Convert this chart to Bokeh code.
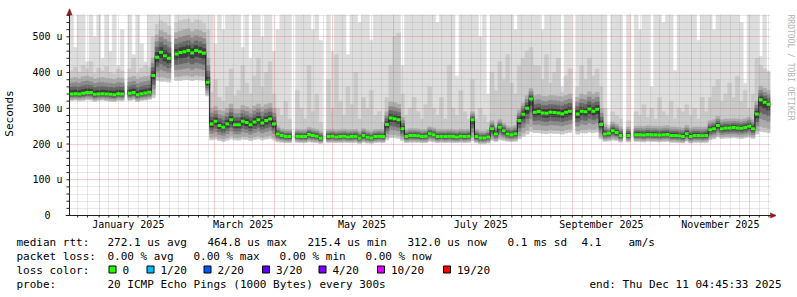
import math
import numpy as np
from datetime import datetime, timedelta
from bokeh.plotting import figure
from bokeh.layouts import row, column
from bokeh.models import Range1d, FixedTicker, ColumnDataSource
from bokeh.core.properties import value
from bokeh.embed import file_html
from bokeh.resources import INLINE

# ---------------- data (2-day buckets, microseconds) ----------------
rtt_median = [
    340, 341, 340, 342, 344, 344, 339, 340, 341, 340,
    339, 338, 341, 340, None, 342, 344, 338, 341, 343,
    345, 392, 443, 457, 447, 440, None, 452, 456, 458,
    462, 455, 462, 458, 454, 373, 256, 264, 252, 247,
    256, 268, 254, 254, 264, 260, 254, 262, 268, 259,
    266, 270, 256, 228, 224, 221, 221, None, 222, 221,
    221, 227, 224, 222, 216, None, 221, 222, 220, 221,
    222, 220, 221, 222, 216, 224, 219, 217, 221, 222,
    221, 255, 273, 271, 268, 243, 221, 224, 224, 223,
    221, 222, 229, 226, 221, 222, 221, 222, 221, 220,
    222, 221, 222, 268, 221, 217, 217, 220, 243, 228,
    247, 237, 228, 226, 229, 266, 283, 300, 326, 289,
    291, 287, 286, 289, 288, 287, 285, 289, 292, None,
    284, 292, 290, 298, 292, 297, 255, 228, 230, 237,
    232, 224, None, 224, None, 226, 226, 225, 227, 226,
    226, 225, 226, 227, 224, 224, 223, 221, 229, 221,
    224, 224, 223, 224, 240, 243, 252, 243, 245, 245,
    246, 245, 244, 246, 250, 243, 284, 324, 317, 311]

rtt_min = [
    322, 323, 321, 322, 324, 323, 320, 322, 323, 321,
    320, 319, 322, 321, None, 322, 324, 319, 322, 323,
    325, 330, 378, 376, 376, 374, None, 378, 378, 380,
    380, 378, 380, 379, 378, 335, 212, 214, 210, 208,
    211, 215, 212, 211, 214, 213, 210, 213, 215, 212,
    214, 216, 212, 206, 205, 204, 204, None, 205, 204,
    204, 206, 205, 204, 202, None, 204, 205, 204, 204,
    205, 204, 204, 205, 202, 205, 203, 202, 204, 205,
    204, 212, 218, 218, 216, 210, 204, 205, 205, 205,
    204, 204, 208, 206, 204, 205, 204, 205, 204, 204,
    205, 204, 205, 210, 204, 201, 201, 203, 210, 207,
    212, 210, 208, 207, 208, 215, 222, 228, 235, 232,
    232, 230, 229, 231, 230, 230, 228, 231, 233, None,
    228, 232, 231, 234, 232, 234, 215, 208, 209, 211,
    210, 206, None, 206, None, 207, 207, 206, 208, 207,
    207, 206, 207, 208, 205, 205, 204, 203, 208, 203,
    205, 205, 204, 205, 212, 215, 220, 216, 217, 217,
    218, 217, 216, 218, 220, 216, 228, 236, 234, 232]

rtt_p75 = [
    384, 386, 383, 388, 390, 387, 382, 385, 386, 384,
    383, 381, 385, 384, None, 386, 389, 382, 386, 388,
    390, 440, 505, 518, 512, 505, None, 512, 516, 520,
    522, 515, 520, 518, 512, 440, 300, 305, 295, 292,
    300, 312, 298, 298, 308, 304, 298, 306, 312, 303,
    310, 314, 300, 250, 242, 240, 240, None, 241, 240,
    240, 246, 243, 241, 236, None, 240, 241, 239, 240,
    241, 239, 240, 241, 236, 243, 238, 236, 240, 241,
    240, 290, 318, 316, 312, 275, 240, 243, 243, 242,
    240, 241, 248, 245, 240, 241, 240, 241, 240, 239,
    241, 240, 241, 290, 240, 236, 236, 239, 265, 250,
    268, 258, 250, 248, 252, 295, 315, 335, 355, 335,
    338, 334, 333, 336, 335, 334, 332, 336, 340, None,
    331, 340, 337, 346, 340, 345, 300, 255, 245, 262,
    256, 248, None, 248, None, 250, 250, 249, 251, 250,
    250, 249, 250, 251, 248, 248, 247, 245, 252, 245,
    248, 248, 247, 248, 265, 268, 277, 268, 270, 270,
    271, 270, 269, 271, 275, 268, 320, 362, 356, 350]

rtt_p90 = [
    405, 415, 400, 420, 410, 430, 398, 412, 405, 418,
    400, 396, 410, 405, None, 410, 440, 398, 412, 420,
    415, 500, 535, 545, 540, 530, None, 540, 545, 548,
    550, 540, 548, 545, 538, 520, 345, 380, 330, 320,
    360, 410, 335, 350, 420, 370, 340, 390, 440, 360,
    400, 430, 340, 300, 280, 320, 270, None, 350, 300,
    270, 420, 290, 340, 260, None, 380, 300, 450, 320,
    280, 360, 310, 400, 270, 330, 300, 350, 280, 290,
    260, 330, 420, 500, 510, 340, 280, 300, 330, 290,
    270, 310, 360, 300, 280, 330, 270, 420, 300, 280,
    350, 290, 270, 380, 270, 300, 280, 260, 400, 350,
    430, 380, 450, 370, 340, 420, 440, 460, 470, 420,
    420, 380, 450, 370, 400, 440, 345, 390, 410, None,
    360, 420, 380, 440, 390, 410, 360, 300, 250, 290,
    280, 270, None, 265, None, 290, 280, 310, 275, 300,
    270, 330, 290, 280, 320, 270, 300, 290, 310, 280,
    300, 270, 330, 290, 330, 360, 380, 320, 340, 370,
    330, 390, 320, 350, 300, 340, 440, 420, 410, 400]

rtt_max = [
    580, 470, 580, 580, 430, 580, 500, 580, 440, 580,
    460, 580, 420, 520, None, 580, 450, 580, 480, 430,
    580, 580, 580, 580, 580, 580, None, 580, 580, 580,
    580, 580, 580, 580, 580, 580, 580, 480, 580, 520,
    580, 580, 580, 580, 470, 580, 440, 580, 580, 500,
    580, 580, 460, 520, 580, 580, 580, None, 580, 580,
    580, 580, 520, 580, 490, None, 580, 460, 580, 580,
    580, 450, 580, 580, 540, 580, 580, 490, 580, 580,
    580, 580, 580, 580, 580, 420, 580, 580, 580, 580,
    580, 580, 580, 580, 540, 580, 580, 580, 580, 390,
    580, 580, 580, 580, 580, 500, 580, 340, 580, 580,
    580, 580, 580, 580, 520, 580, 580, 580, 580, 580,
    580, 520, 580, 580, 580, 580, 360, 580, 580, None,
    580, 580, 580, 580, 580, 580, 580, 580, 255, 580,
    580, 580, None, 580, None, 580, 520, 580, 580, 360,
    580, 580, 540, 580, 580, 405, 580, 580, 580, 580,
    580, 490, 580, 580, 580, 520, 580, 580, 580, 580,
    580, 580, 540, 370, 580, 580, 580, 445, 580, 405]

y_ticks = [0, 100, 200, 300, 400, 500]
y_labels = ["0\u00a0\u00a0", "100 u", "200 u", "300 u", "400 u", "500 u"]
month_labels = ["January 2025", "March 2025", "May 2025",
                "July 2025", "September 2025", "November 2025"]
loss_labels = ["0", "1/20", "2/20", "3/20", "4/20", "10/20", "19/20"]
loss_colors = ["#26ff00", "#00b8ff", "#0059ff", "#5e00ff", "#7e00ff", "#dd00ff", "#ff0000"]
stats_rtt = ["272.1 us avg", "464.8 us max", "215.4 us min", "312.0 us now",
             "0.1 ms sd", "4.1", "am/s"]
stats_loss = ["0.00 % avg", "0.00 % max", "0.00 % min", "0.00 % now"]

# ---------------- geometry ----------------
START = datetime(2024, 12, 16, 19, 0)
BUCKET = timedelta(days=2)
N = len(rtt_median)
EPOCH = datetime(1970, 1, 1)
DAY_MS = 86400000.0


def ms(d):
    return (d - EPOCH).total_seconds() * 1000.0


edges = np.array([ms(START + i * BUCKET) for i in range(N + 1)])
left, right = edges[:-1], edges[1:]


def arr(a):
    return np.array([np.nan if v is None else v for v in a], dtype=float)


med, lo, p75, p90, mx = map(arr, (rtt_median, rtt_min, rtt_p75, rtt_p90, rtt_max))

Y_TOP = 562.5                    # top of plot area (canvas y = 14)
PX_Y = 201.0 / Y_TOP             # px per microsecond
PX_X = 701.0 / 360.0             # px per day
X0, X_END = edges[0], edges[-1]  # plot area left/right (canvas x 67 / 768)
XPX = DAY_MS / PX_X              # ms per px
YPX = 1.0 / PX_Y                 # us per px

x_lo, x_hi = X0 - 4 * XPX, X0 + 707 * XPX      # frame 63 .. 774
y_lo, y_hi = -3 * YPX, Y_TOP + 6 * YPX          # frame 218 .. 8
FONT = "DejaVu Sans Mono"

p = figure(frame_width=711, frame_height=210, min_border_left=63, min_border_right=0,
           min_border_top=8, min_border_bottom=18, x_axis_type="datetime",
           x_range=Range1d(x_lo, x_hi), y_range=Range1d(y_lo, y_hi),
           output_backend="svg", toolbar_location=None,
           background_fill_color="white", border_fill_color="white",
           outline_line_color=None)

# ---------------- smoke ----------------
d_lo = med - lo
d_hi = p75 - med


def band(bottom, top, color):
    top = np.minimum(top, Y_TOP)
    ok = ~(np.isnan(bottom) | np.isnan(top))
    src = ColumnDataSource(dict(left=left[ok], right=right[ok],
                                bottom=bottom[ok], top=top[ok]))
    r = p.quad(left="left", right="right", bottom="bottom", top="top", source=src,
               fill_color=color, line_color=color, line_width=0.6)
    r.level = "image"


band(lo, np.fmax(mx, p90), "#dddddd")
band(lo, p90, "#c9c9c9")
band(med - 0.85 * d_lo, p75, "#ababab")
band(med - 0.6 * d_lo, med + 0.7 * d_hi, "#8a8a8a")
band(med - 0.4 * d_lo, med + 0.45 * d_hi, "#666666")
band(med - 0.2 * d_lo, med + 0.22 * d_hi, "#3e3e3e")

# ---------------- grid ----------------
month_starts = [ms(datetime(2025, m, 1)) for m in range(1, 13)]
label_pos = [ms(datetime(2025, m, 16)) for m in (1, 3, 5, 7, 9, 11)]
minor_days = []
for yy, mm in [(2024, 12)] + [(2025, m) for m in range(1, 13)]:
    for dd in (6, 11, 16, 21, 26):
        t = ms(datetime(yy, mm, dd))
        if X0 < t < X_END:
            minor_days.append(t)
y_minor = [v for v in range(20, 561, 20) if v % 100]

p.xgrid.ticker = FixedTicker(ticks=month_starts, minor_ticks=minor_days)
p.ygrid.ticker = FixedTicker(ticks=y_ticks[1:], minor_ticks=y_minor)
for g in (p.xgrid[0], p.ygrid[0]):
    g.grid_line_color = "#e85050"
    g.grid_line_alpha = 0.55
    g.grid_line_dash = "1 1"
    g.minor_grid_line_color = "#9a9a9a"
    g.minor_grid_line_alpha = 0.45
    g.minor_grid_line_dash = "1 1"

# white masks outside the plot area (keeps grid inside 67..768 / 14..215)
p.quad(left=[x_lo, X_END, x_lo, x_lo], right=[X0, x_hi, x_hi, x_hi],
       bottom=[y_lo, y_lo, Y_TOP, y_lo], top=[y_hi, y_hi, y_hi, 0],
       fill_color="white", line_color=None)

# ---------------- median ----------------
vx, vy0, vy1 = [], [], []
for i in range(1, N):
    if not (np.isnan(med[i - 1]) or np.isnan(med[i])):
        vx.append(left[i]); vy0.append(med[i - 1]); vy1.append(med[i])
okm = ~np.isnan(med)
p.segment(x0=left[okm], x1=right[okm], y0=med[okm], y1=med[okm],
          line_color="#202020", line_width=1)
p.segment(x0=vx, x1=vx, y0=vy0, y1=vy1, line_color="#202020", line_width=1)
GW = 1.5 * YPX
p.quad(left=left[okm], right=right[okm], bottom=med[okm] - GW, top=med[okm] + GW,
       fill_color=loss_colors[0], line_color=None)

# ---------------- axes lines, ticks, arrows ----------------
AX = "#202020"
p.segment(x0=[x_lo, X0], y0=[0, 0], x1=[x_hi - 5 * XPX, X0], y1=[0, Y_TOP + 1 * YPX],
          line_color=AX, line_width=1)
yt = y_ticks + y_minor
p.segment(x0=[X0 - 3 * XPX] * len(yt), x1=[X0] * len(yt), y0=yt, y1=yt,
          line_color=AX, line_width=1)
xt = minor_days + month_starts
p.segment(x0=xt, x1=xt, y0=[0] * len(xt), y1=[-2 * YPX] * len(xt),
          line_color=AX, line_width=1)
ARC = "#8b1c1c"
p.patch(x=[X0 - 2.6 * XPX, X0 + 2.6 * XPX, X0],
        y=[Y_TOP - 0.5 * YPX, Y_TOP - 0.5 * YPX, y_hi],
        fill_color=ARC, line_color=ARC, line_width=0.5)
p.patch(x=[x_hi - 6 * XPX, x_hi - 6 * XPX, x_hi],
        y=[-2.6 * YPX, 2.6 * YPX, 0],
        fill_color=ARC, line_color=ARC, line_width=0.5)

# ---------------- library axes: tick labels + title ----------------
xa = p.xaxis[0]
xa.ticker = FixedTicker(ticks=label_pos)
xa.major_label_overrides = dict(zip(label_pos, month_labels))
xa.axis_line_color = None
xa.major_tick_line_color = None
xa.minor_tick_line_color = None
xa.major_tick_out = 0
xa.major_tick_in = 0
xa.major_label_standoff = 0
xa.major_label_text_font = FONT
xa.major_label_text_font_size = "10px"
xa.major_label_text_color = "#000000"

ya = p.yaxis[0]
ya.ticker = FixedTicker(ticks=y_ticks)
ya.major_label_overrides = dict(zip(y_ticks, y_labels))
ya.axis_line_color = None
ya.major_tick_line_color = None
ya.minor_tick_line_color = None
ya.major_tick_out = 0
ya.major_tick_in = 0
ya.major_label_standoff = 3
ya.major_label_text_font = FONT
ya.major_label_text_font_size = "10px"
ya.major_label_text_color = "#000000"
ya.axis_label = "Seconds"
ya.axis_label_text_font = FONT
ya.axis_label_text_font_size = "11px"
ya.axis_label_text_font_style = "normal"
ya.axis_label_text_color = "#000000"
ya.axis_label_standoff = 13

# ---------------- watermark (right strip) ----------------
wm = figure(frame_width=23, frame_height=236, min_border=0,
            x_range=Range1d(774, 797), y_range=Range1d(236, 0),
            x_axis_location=None, y_axis_location=None,
            output_backend="svg", toolbar_location=None,
            background_fill_color="white", border_fill_color="white",
            outline_line_color=None)
wm.grid.visible = False
wm.text(x=[787.5], y=[59], text=["RRDTOOL / TOBI OETIKER"], angle=-math.pi / 2,
        text_font=value(FONT), text_font_size="8px", text_color="#b4b4b4",
        text_align="center", text_baseline="middle")

# ---------------- legend (bottom strip) ----------------
lg = figure(frame_width=797, frame_height=61, min_border=0,
            x_range=Range1d(0, 797), y_range=Range1d(297, 236),
            x_axis_location=None, y_axis_location=None,
            output_backend="svg", toolbar_location=None,
            background_fill_color="white", border_fill_color="white",
            outline_line_color=None)
lg.grid.visible = False

r1, r2, r3, r4 = 241.5, 255.5, 269.5, 283.5
box_x = [108, 146, 203, 261.5, 318, 376.5, 442.5]
tx = ([16] + [107, 207, 307, 407, 507, 581, 628]
      + [16] + [107, 193, 279, 365]
      + [16] + [b + 14 for b in box_x]
      + [16, 107])
ty = [r1] * 8 + [r2] * 5 + [r3] * 8 + [r4] * 2
tt = (["median rtt:"] + stats_rtt + ["packet loss:"] + stats_loss
      + ["loss color:"] + loss_labels
      + ["probe:", "20 ICMP Echo Pings (1000 Bytes) every 300s"])
lg.text(x=tx, y=ty, text=tt, text_font=value(FONT), text_font_size="11px",
        text_color="#000000", text_align="left", text_baseline="middle")
lg.text(x=[781], y=[r4], text=["end: Thu Dec 11 04:45:33 2025"], text_font=value(FONT),
        text_font_size="11px", text_color="#000000", text_align="right",
        text_baseline="middle")
lg.quad(left=[b + 0.5 for b in box_x], right=[b + 7.5 for b in box_x],
        top=[265.5] * 7, bottom=[272.5] * 7, fill_color=loss_colors,
        line_color="#000000", line_width=1)

layout = column(row(p, wm, spacing=0), lg, spacing=0)
open("out.html", "w").write(file_html(layout, INLINE))
